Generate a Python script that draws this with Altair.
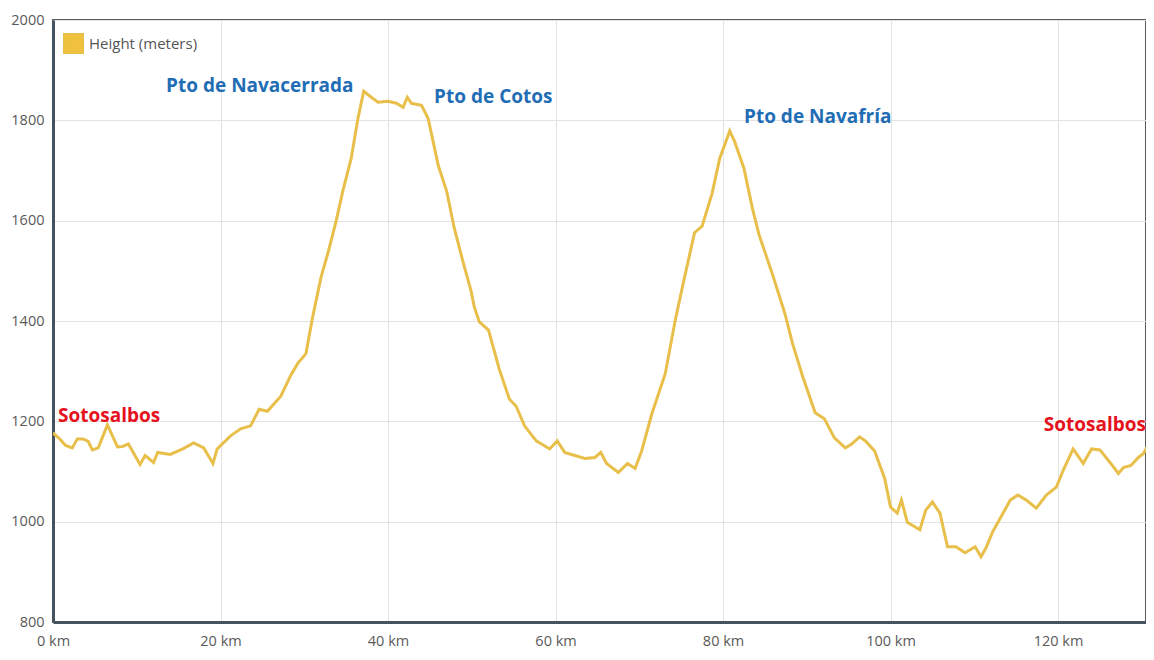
import altair as alt
import pandas as pd

# Elevation profile (km, metres)
km = [0, 0.8, 1.5, 2.3, 2.9, 3.6, 4.2, 4.7, 5.4, 6.5, 7.7, 8.3, 9.0, 10.4, 11.0, 12.0, 12.5,
      14.0, 15.5, 16.8, 18.0, 19.1, 19.6, 21.2, 22.4, 23.6, 24.6, 25.6, 27.2, 28.4, 29.2,
      30.2, 31.0, 32.0, 32.9, 33.8, 34.6, 35.6, 36.4, 37.1, 38.0, 38.8, 40.0, 41.0, 41.8,
      42.3, 42.8, 44.0, 44.8, 46.0, 47.0, 47.9, 49.0, 49.9, 50.3, 50.9, 52.0, 53.3, 54.5,
      55.3, 56.3, 57.7, 59.3, 60.2, 61.1, 62.3, 63.5, 64.7, 65.4, 66.1, 67.5, 68.6, 69.5,
      70.3, 71.5, 73.1, 74.3, 75.4, 76.6, 77.5, 78.7, 79.6, 80.8, 81.4, 82.5, 83.5, 84.3,
      85.9, 87.4, 88.3, 89.5, 91.0, 92.1, 93.3, 94.6, 95.4, 96.3, 97.0, 98.1, 99.3, 100.0,
      100.8, 101.3, 102.0, 103.5, 104.2, 105.0, 105.9, 106.8, 107.8, 108.9, 110.1, 110.8,
      111.4, 112.2, 114.3, 115.2, 116.2, 117.4, 118.6, 119.8, 120.6, 121.8, 123.0, 124.0,
      125.0, 126.3, 127.2, 127.8, 128.7, 129.6, 130.2, 131.2, 132.0]
height = [1177, 1165, 1152, 1147, 1165, 1165, 1160, 1143, 1147, 1193, 1149, 1150, 1155, 1114,
          1132, 1118, 1138, 1134, 1145, 1157, 1147, 1116, 1145, 1171, 1185, 1191, 1224, 1220,
          1250, 1292, 1315, 1335, 1408, 1487, 1540, 1599, 1659, 1724, 1803, 1858, 1846, 1836,
          1838, 1834, 1826, 1846, 1834, 1830, 1803, 1710, 1659, 1586, 1515, 1461, 1428, 1398,
          1382, 1303, 1244, 1230, 1191, 1161, 1145, 1161, 1138, 1132, 1126, 1128, 1138, 1116,
          1098, 1116, 1106, 1142, 1215, 1295, 1402, 1487, 1576, 1589, 1655, 1724, 1779, 1757,
          1704, 1625, 1572, 1493, 1414, 1355, 1290, 1217, 1205, 1167, 1147, 1155, 1169, 1161,
          1141, 1086, 1029, 1017, 1043, 999, 984, 1023, 1039, 1017, 950, 950, 938, 950, 930,
          948, 980, 1043, 1053, 1043, 1027, 1053, 1069, 1102, 1145, 1116, 1145, 1143, 1116,
          1096, 1108, 1112, 1128, 1136, 1165, 1175]
series_name = "Height (meters)"

# Place-name annotations
label_text = ["Sotosalbos", "Pto de Navacerrada", "Pto de Cotos", "Pto de Navafría", "Sotosalbos"]
label_km = [0.6, 13.5, 45.5, 82.5, 118.3]
label_m = [1211, 1868, 1847, 1807, 1193]
label_color = ["#e5121d", "#1f6db5", "#1f6db5", "#1f6db5", "#e5121d"]

x_ticks = [0, 20, 40, 60, 80, 100, 120]
y_ticks = [800, 1000, 1200, 1400, 1600, 1800, 2000]

profile = pd.DataFrame({"km": km, "height": height, "series": series_name})
labels = pd.DataFrame({"text": label_text, "km": label_km, "m": label_m, "color": label_color})

x_scale = alt.Scale(domain=[0, 130.5], nice=False, zero=False)
y_scale = alt.Scale(domain=[800, 2000], nice=False, zero=False)

line = alt.Chart(profile).mark_line(strokeWidth=3, clip=True).encode(
    x=alt.X("km:Q", scale=x_scale,
            axis=alt.Axis(values=x_ticks, labelExpr="datum.value + ' km'", title=None,
                          labelPadding=12, labelFlush=False)),
    y=alt.Y("height:Q", scale=y_scale,
            axis=alt.Axis(values=y_ticks, title=None, labelPadding=9, format="d",
                          labelFlush=False)),
    color=alt.Color("series:N", scale=alt.Scale(range=["#e8bf4a"]),
                    legend=alt.Legend(
                        title=None, orient="none", legendX=10, legendY=13,
                        symbolType="square", symbolSize=380, padding=0,
                        labelFontSize=15, labelColor="#555555", labelFont="Open Sans",
                        labelOffset=5,
                        symbolFillColor="#f0c13c", symbolStrokeColor="#dedede",
                        symbolStrokeWidth=1.5)),
)

text = alt.Chart(labels).mark_text(
    align="left", baseline="middle", font="Open Sans", fontSize=19, fontWeight=700, clip=True
).encode(
    x=alt.X("km:Q", scale=x_scale),
    y=alt.Y("m:Q", scale=y_scale),
    text="text:N",
    color=alt.Color("color:N", scale=None),
)

chart = alt.layer(line, text).properties(
    width=1093, height=602,
    padding={"left": 45, "top": 12, "right": 0, "bottom": 30},
    autosize=alt.AutoSizeParams(type="none"),
).configure_view(
    stroke="#5a5a5a", strokeWidth=2
).configure_axis(
    ticks=False, grid=True, gridColor="#e2e2e2", gridWidth=1,
    domainColor="#46525e", domainWidth=3,
    labelFont="Open Sans", labelFontSize=14.5, labelColor="#5a5a5a",
)

chart.save("out.html", embed_options={"renderer": "svg", "actions": False})
